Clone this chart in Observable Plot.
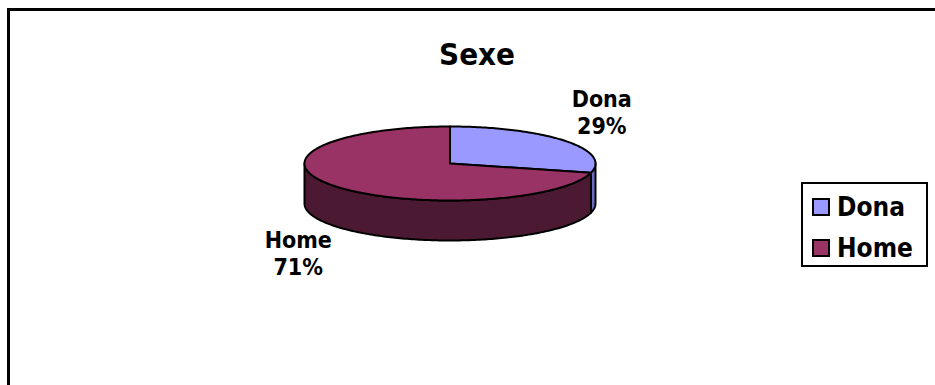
<!DOCTYPE html>
<html>
<head>
<meta charset="utf-8">
<script src="https://cdn.jsdelivr.net/npm/d3@7"></script>
<script src="https://cdn.jsdelivr.net/npm/@observablehq/plot@0.6"></script>
<style>
  html, body { margin: 0; padding: 0; background: #fff; }
  #wrap { position: relative; width: 935px; height: 385px; overflow: hidden; background: #fff; }
  #border { position: absolute; left: 7px; top: 8px; width: 1000px; height: 1000px;
            border-left: 3px solid #000; border-top: 3px solid #000; }
  #chart { position: absolute; left: 0; top: 0; }
  #legendBox { position: absolute; left: 801px; top: 182px; width: 127px; height: 85px;
               border: 2px solid #000; box-sizing: border-box; background: #fff;
               padding: 2px 0 0 9px; }
  .lg-swatches { font-family: "DejaVu Sans Condensed", "Noto Sans", "DejaVu Sans", sans-serif !important;
                 font-size: 26px !important; font-weight: bold !important; margin: 0 !important; color: #000; }
  .lg-swatch { height: 41px !important; display: flex !important; align-items: center !important;
               padding: 0 !important; margin: 0 !important; }
  .lg-swatch > svg { border: 2px solid #000; box-sizing: border-box; margin-right: 7px !important; }
</style>
</head>
<body>
<div id="wrap">
  <div id="border"></div>
  <div id="chart"></div>
  <div id="legendBox"></div>
</div>
<script>
// ---- data ----
const title = "Sexe";
const categories = ["Dona", "Home"];
const values = [29, 71];
const topColors = ["#9999FF", "#993366"];
const sideColors = ["#6B6BC0", "#4C1933"];

// ---- layout constants ----
const CX = 449.5, CY = 163, RX = 145.5, RY = 37;
const DEPTH = 40 / RY; // wall height in y-units
const FONT = '"DejaVu Sans Condensed", "Noto Sans", "DejaVu Sans", sans-serif';

const total = d3.sum(values);
let acc = 0;
const slices = categories.map((name, i) => {
  const a0 = -90 + 360 * acc / total;
  acc += values[i];
  const a1 = -90 + 360 * acc / total;
  const mid = (a0 + a1) / 2 * Math.PI / 180;
  return {name, value: values[i], pct: Math.round(100 * values[i] / total), a0, a1, i,
          cos: Math.cos(mid), sin: Math.sin(mid)};
});

const rad = d => d * Math.PI / 180;
function arc(a0, a1, dy = 0) {
  const n = Math.max(2, Math.ceil(Math.abs(a1 - a0)));
  return d3.range(n + 1).map(k => {
    const a = rad(a0 + (a1 - a0) * k / n);
    return {x: Math.cos(a), y: Math.sin(a) + dy};
  });
}

// side walls (front half only: 0..180 deg in screen angles)
const sideMarks = [];
slices.forEach(s => {
  const s0 = Math.max(s.a0, 0), s1 = Math.min(s.a1, 180);
  if (s1 > s0) {
    const pts = [...arc(s0, s1, 0), ...arc(s1, s0, DEPTH)];
    pts.push(pts[0]);
    sideMarks.push(Plot.line(pts, {x: "x", y: "y", fill: sideColors[s.i], stroke: "#000",
      strokeWidth: 2, strokeLinejoin: "round", curve: "linear"}));
  }
});

// top faces
const topPts = slices.flatMap(s =>
  [{x: 0, y: 0}, ...arc(s.a0, s.a1), {x: 0, y: 0}].map(p => ({...p, name: s.name})));

const upper = slices.filter(s => s.sin < 0);
const lower = slices.filter(s => s.sin >= 0);
const labelText = d => `${d.name}\n${d.pct}%`;

const chart = Plot.plot({
  width: 935, height: 385, margin: 0,
  style: {background: "transparent", fontFamily: FONT, overflow: "visible"},
  x: {domain: [-1, 1], range: [CX - RX, CX + RX], axis: null},
  y: {domain: [-1, 1], range: [CY - RY, CY + RY], axis: null},
  color: {type: "ordinal", domain: categories, range: topColors},
  marks: [
    ...sideMarks,
    Plot.line(topPts, {x: "x", y: "y", z: "name", fill: "name", stroke: "#000",
      strokeWidth: 2, strokeLinejoin: "round", curve: "linear"}),
    Plot.text(upper, {x: d => 1.32 * d.cos, y: d => d.sin, text: labelText,
      lineAnchor: "bottom", dy: -7, fontSize: 23, fontWeight: "bold", fill: "#000", lineHeight: 1.17}),
    Plot.text(lower, {x: d => 1.32 * d.cos, y: d => d.sin + DEPTH, text: labelText,
      lineAnchor: "top", dy: 3, fontSize: 23, fontWeight: "bold", fill: "#000", lineHeight: 1.17}),
    Plot.text([title], {text: d => d, frameAnchor: "top", dx: 9, dy: 64, lineAnchor: "bottom",
      fontSize: 31, fontWeight: "bold", fill: "#000"})
  ]
});
document.getElementById("chart").appendChild(chart);

const legend = Plot.legend({
  color: {type: "ordinal", domain: categories, range: topColors},
  legend: "swatches", columns: 1, swatchSize: 18, className: "lg"
});
document.getElementById("legendBox").appendChild(legend);
</script>
</body>
</html>
